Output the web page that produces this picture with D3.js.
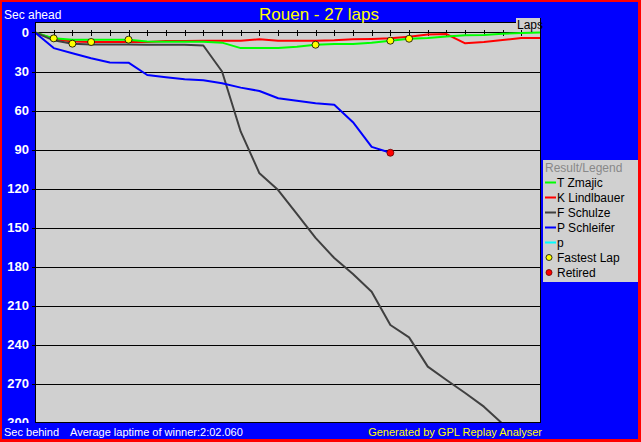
<!DOCTYPE html>
<html><head><meta charset="utf-8">
<script src="https://cdn.jsdelivr.net/npm/d3@7"></script>
<style>body{margin:0;background:#0000ff}svg{display:block}text{font-family:"Liberation Sans",Arial,sans-serif}</style>
</head><body>
<script>
const laps = [0,1,2,3,4,5,6,7,8,9,10,11,12,13,14,15,16,17,18,19,20,21,22,23,24,25,26,27];
const drivers = ["T Zmajic","K Lindlbauer","F Schulze","P Schleifer","p"];
const colors = ["#00ff00","#ff0000","#404040","#0000ff","#00ffff"];
const zmajic = [0,4.5,5.5,5.5,5.5,5.5,7,7.2,7.2,7.2,7.8,12,12,12,11,9.4,8.8,8.8,7.8,6.3,4.8,4.2,3,2.2,2,1,0.3,0];
const lindlbauer = [0,5,7,7.3,7.3,7.3,7.3,6.5,6.5,6.3,6.3,6.3,5.2,6.3,6.3,6.3,6,5.2,5,4.5,3.3,1.6,1.2,8.3,7.3,5.8,4.2,4.2];
const schulze = [0,6,8.6,9.2,9.2,9.2,9.4,9.4,9.4,10,30,76.3,108.3,121.2,139.6,158,173.5,185.8,199.4,225,234.5,257,267.3,277.3,287.8,301];
const schleifer = [0,12,16,19.8,23,23.2,32.7,34.5,36,36.8,39,42.4,45,50.6,52.5,54.5,55.5,69,88,92.5];
const pSeries = [];
const seriesValues = [zmajic, lindlbauer, schulze, schleifer, pSeries];
const yTicks = [0,30,60,90,120,150,180,210,240,270,300];
const fastestLapDriver = ["T Zmajic","F Schulze","K Lindlbauer","T Zmajic","T Zmajic","T Zmajic","T Zmajic"];
const fastestLapLap = [1,2,3,5,15,19,20];
const retiredDriver = ["P Schleifer"];
const retiredLap = [19];
const title = "Rouen - 27 laps";
const avgText = "Average laptime of winner:2:02.060";

const W=641,H=442;
const svg=d3.select("body").append("svg").attr("width",W).attr("height",H);
svg.append("rect").attr("width",W).attr("height",H).attr("fill","#ff0000");
svg.append("rect").attr("x",2).attr("y",2).attr("width",636).attr("height",437).attr("fill","#0000ff");

const L=35,R=540,T=22,B=422.5;
const x=d3.scaleLinear().domain([0,27]).range([L,R]);
const y=d3.scaleLinear().domain([0,300]).range([32.5,422.5]);

svg.append("rect").attr("x",L).attr("y",T).attr("width",R-L).attr("height",B-T).attr("fill","#d0d0d0");

const defs=svg.append("defs");
defs.append("clipPath").attr("id","plotclip").append("rect").attr("x",L).attr("y",T).attr("width",R-L).attr("height",B-T);
defs.append("clipPath").attr("id","lblclip").append("rect").attr("x",0).attr("y",0).attr("width",L).attr("height",423);

// grid lines
svg.append("g").selectAll("line").data(yTicks.filter(d=>d>0&&d<300)).join("line")
  .attr("x1",L-3).attr("x2",R).attr("y1",d=>Math.round(y(d))+0.5).attr("y2",d=>Math.round(y(d))+0.5)
  .attr("stroke","#000").attr("stroke-width",1);
// zero axis with lap ticks
const zy=Math.round(y(0))-0.5;
svg.append("line").attr("x1",L-3).attr("x2",R).attr("y1",zy).attr("y2",zy).attr("stroke","#000");
const xAxis=d3.axisTop(x).tickValues(laps).tickSize(3).tickFormat("");
const gx=svg.append("g").attr("transform",`translate(0,${zy})`).call(xAxis);
gx.select(".domain").remove();
gx.selectAll(".tick line").attr("y1",3).attr("y2",-3).attr("stroke","#000").attr("shape-rendering","crispEdges");

// y labels (bottom one clipped like the original)
const yl=svg.append("g").attr("clip-path","url(#lblclip)");
yl.selectAll("text").data(yTicks).join("text")
  .attr("x",29).attr("y",d=>y(d)).attr("dy","0.36em").attr("text-anchor","end")
  .attr("fill","#fff").attr("font-weight","bold").attr("font-size",13).text(d=>d);

// lines
const line=d3.line().x((d,i)=>x(laps[i])).y(d=>y(d));
const plot=svg.append("g").attr("clip-path","url(#plotclip)");
const order=[1,0,2,3];
order.forEach(k=>{
  if(seriesValues[k].length<2) return;
  plot.append("path").datum(seriesValues[k]).attr("d",line).attr("fill","none")
    .attr("stroke",colors[k]).attr("stroke-width",2).attr("stroke-linejoin","round");
});
// fastest laps
plot.selectAll("circle.fl").data(fastestLapLap).join("circle").attr("class","fl")
  .attr("cx",(d)=>x(d)).attr("cy",(d,i)=>y(seriesValues[drivers.indexOf(fastestLapDriver[i])][d]))
  .attr("r",3.5).attr("fill","#ffff00").attr("stroke","#000").attr("stroke-width",0.8);
plot.selectAll("circle.rt").data(retiredLap).join("circle").attr("class","rt")
  .attr("cx",d=>x(d)).attr("cy",(d,i)=>y(seriesValues[drivers.indexOf(retiredDriver[i])][d]))
  .attr("r",3.5).attr("fill","#ff0000").attr("stroke","#600").attr("stroke-width",0.8);

// border
svg.append("rect").attr("x",L+0.5).attr("y",T+0.5).attr("width",R-L).attr("height",B-T-0.5)
  .attr("fill","none").attr("stroke","#000").attr("stroke-width",1);

// Laps box
svg.append("rect").attr("x",516).attr("y",18).attr("width",24).attr("height",12).attr("fill","#d0d0d0");
svg.append("line").attr("x1",540.5).attr("x2",540.5).attr("y1",18).attr("y2",30).attr("stroke","#000");
svg.append("text").attr("x",517).attr("y",29).attr("font-size",12).attr("fill","#000").text("Laps");

// title and texts
svg.append("text").attr("x",319).attr("y",19.5).attr("text-anchor","middle").attr("font-size",17).attr("fill","#ffff00").text(title);
svg.append("text").attr("x",4).attr("y",19).attr("font-size",12).attr("fill","#fff").text("Sec ahead");
svg.append("text").attr("x",4).attr("y",436).attr("font-size",11).attr("fill","#fff").text("Sec behind");
svg.append("text").attr("x",70).attr("y",436).attr("font-size",11).attr("fill","#fff").text(avgText);
svg.append("text").attr("x",542).attr("y",436).attr("text-anchor","end").attr("font-size",11).attr("fill","#ffff00").text("Generated by GPL Replay Analyser");

// legend
const lg=svg.append("g");
lg.append("rect").attr("x",543).attr("y",160).attr("width",95).attr("height",122).attr("fill","#d0d0d0");
lg.append("text").attr("x",545).attr("y",171.5).attr("font-size",12).attr("fill","#888").text("Result/Legend");
drivers.forEach((d,i)=>{
  const cy=182.5+i*15;
  lg.append("line").attr("x1",545).attr("x2",556).attr("y1",cy).attr("y2",cy).attr("stroke",colors[i]).attr("stroke-width",2);
  lg.append("text").attr("x",557).attr("y",cy+4.5).attr("font-size",12).attr("fill","#000").text(d);
});
const fy=182.5+5*15;
lg.append("circle").attr("cx",549).attr("cy",fy).attr("r",3).attr("fill","#ffff00").attr("stroke","#000").attr("stroke-width",0.8);
lg.append("text").attr("x",557).attr("y",fy+4.5).attr("font-size",12).text("Fastest Lap");
lg.append("circle").attr("cx",549).attr("cy",fy+15).attr("r",3).attr("fill","#ff0000").attr("stroke","#600").attr("stroke-width",0.8);
lg.append("text").attr("x",557).attr("y",fy+19.5).attr("font-size",12).text("Retired");
</script>
</body></html>
